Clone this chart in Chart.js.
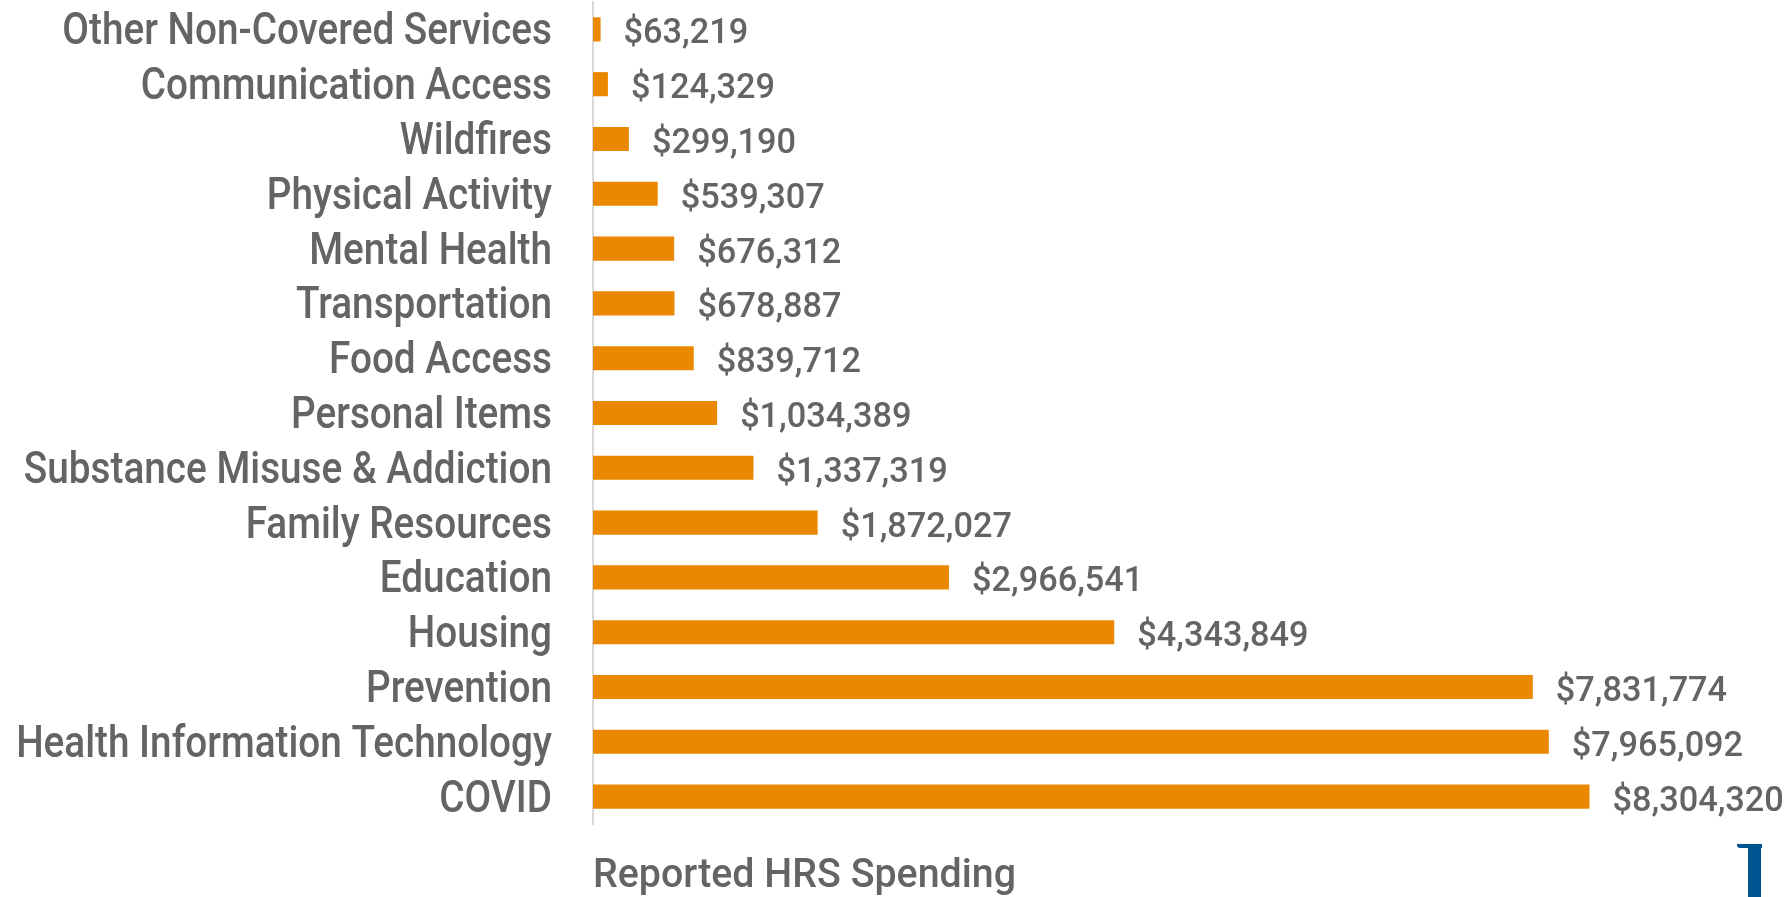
<!DOCTYPE html>
<html>
<head>
<meta charset="utf-8">
<script src="https://cdn.jsdelivr.net/npm/chart.js@4/dist/chart.umd.min.js"></script>
<style>
  html, body { margin: 0; padding: 0; background: #fff; overflow: hidden; }
  #wrap { position: relative; width: 1787px; height: 897px; overflow: hidden; }
  canvas { display: block; }
  #logo { position: absolute; left: 1737px; top: 844px; width: 25px; height: 60px; }
  #logo .t { position: absolute; left: 0; top: 0; width: 25px; height: 4px; background: #00548f; border-bottom-left-radius: 3px; }
  #logo .v { position: absolute; left: 11px; top: 0; width: 13px; height: 60px; background: #00548f; }
</style>
</head>
<body>
<div id="wrap">
  <canvas id="c" width="1787" height="897"></canvas>
  <div id="logo"><div class="t"></div><div class="v"></div></div>
</div>
<script>
const categories = [
  "Other Non-Covered Services",
  "Communication Access",
  "Wildfires",
  "Physical Activity",
  "Mental Health",
  "Transportation",
  "Food Access",
  "Personal Items",
  "Substance Misuse & Addiction",
  "Family Resources",
  "Education",
  "Housing",
  "Prevention",
  "Health Information Technology",
  "COVID"
];
const spending = [
  63219, 124329, 299190, 539307, 676312, 678887, 839712, 1034389,
  1337319, 1872027, 2966541, 4343849, 7831774, 7965092, 8304320
];
const axisTitle = "Reported HRS Spending";

const FONT = "Roboto, 'DejaVu Sans', sans-serif";
const TEXT = "#646464";

const fmt = v => "$" + v.toLocaleString("en-US");

// draws condensed text (the reference uses a narrow typeface)
function condensedText(ctx, text, x, y, size, sx, align, weight) {
  ctx.save();
  ctx.font = (weight || "normal") + " " + size + "px " + FONT;
  ctx.fillStyle = TEXT;
  ctx.textAlign = align;
  ctx.textBaseline = "alphabetic";
  ctx.translate(x, y);
  ctx.scale(sx, 1);
  ctx.fillText(text, 0, 0);
  ctx.restore();
}

const narrowText = {
  id: "narrowText",
  afterDraw(chart) {
    const ctx = chart.ctx;
    const yScale = chart.scales.y;
    const area = chart.chartArea;
    const meta = chart.getDatasetMeta(0);
    // category labels
    chart.data.labels.forEach((lab, i) => {
      const y = yScale.getPixelForTick(i);
      condensedText(ctx, lab, area.left - 41, y + 15, 44, 0.88, "right", "500");
    });
    // value labels
    meta.data.forEach((bar, i) => {
      condensedText(ctx, fmt(chart.data.datasets[0].data[i]), bar.x + 23, bar.y + 14, 35, 0.98, "left", "500");
    });
    // axis title
    condensedText(ctx, axisTitle, area.left, area.bottom + 63, 41, 0.96, "left", "500");
  }
};

new Chart(document.getElementById("c"), {
  type: "bar",
  data: {
    labels: categories,
    datasets: [{
      data: spending,
      backgroundColor: "#EA8900",
      borderWidth: 0,
      categoryPercentage: 1,
      barPercentage: 0.44
    }]
  },
  options: {
    indexAxis: "y",
    responsive: false,
    animation: false,
    devicePixelRatio: 1,
    layout: { padding: { top: 2, right: 114, bottom: 65, left: 0 } },
    plugins: { legend: { display: false }, tooltip: { enabled: false } },
    scales: {
      y: {
        grid: { display: false },
        border: { display: true, color: "#d9d9d9", width: 2 },
        ticks: { display: false },
        afterFit(scale) { scale.width = 593; scale.paddingTop = 0; scale.paddingBottom = 0; }
      },
      x: {
        min: 0,
        max: 9000000,
        grid: { display: false },
        border: { display: false },
        ticks: { display: false },
        title: { display: false, text: axisTitle }
      }
    }
  },
  plugins: [narrowText]
});
</script>
</body>
</html>
